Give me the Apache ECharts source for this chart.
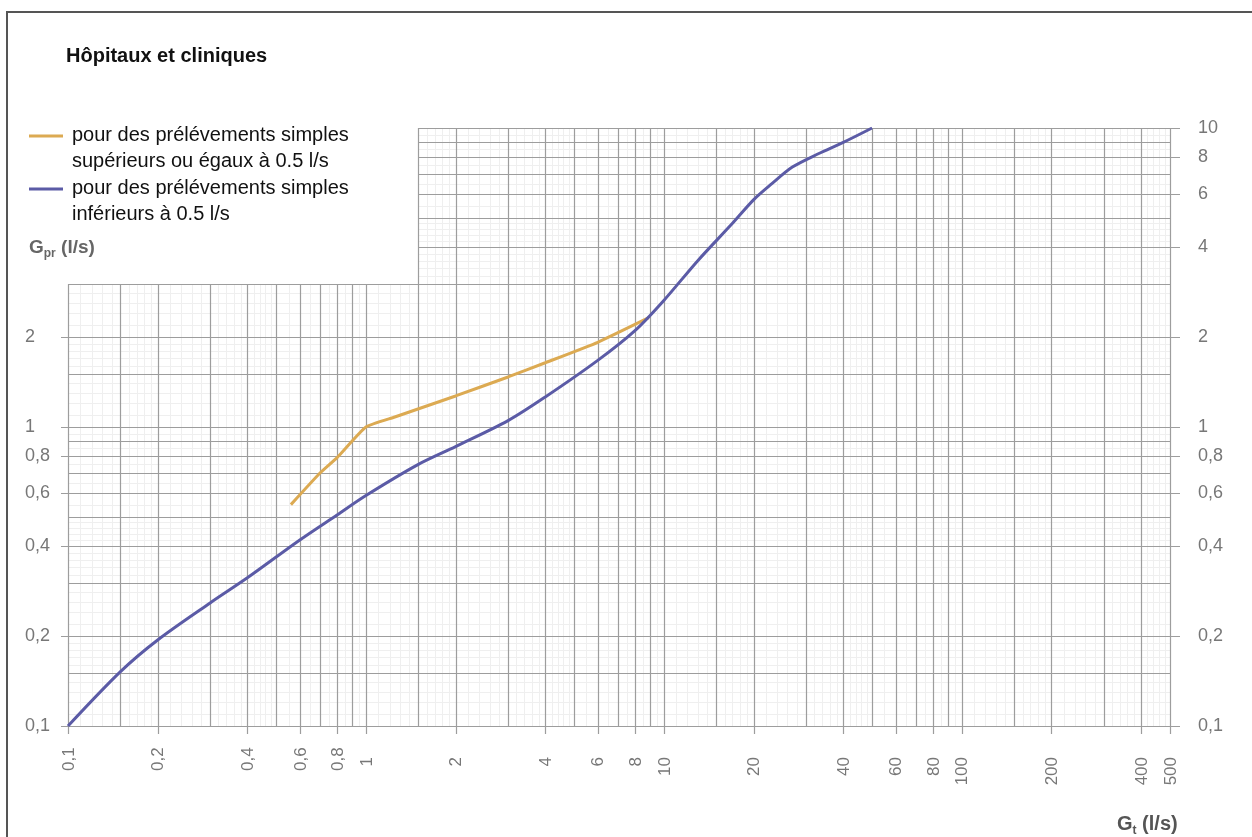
<!DOCTYPE html>
<html>
<head>
<meta charset="utf-8">
<script src="https://cdn.jsdelivr.net/npm/echarts@6/dist/echarts.min.js"></script>
<style>
html,body{margin:0;padding:0;background:#fff;}
#chart{width:1252px;height:837px;}
</style>
</head>
<body>
<div id="chart"></div>
<script>
// ---- data ----
const xTickLabels = [0.1, 0.2, 0.4, 0.6, 0.8, 1, 2, 4, 6, 8, 10, 20, 40, 60, 80, 100, 200, 400, 500];
const yTickLabelsLeft = [0.1, 0.2, 0.4, 0.6, 0.8, 1, 2];
const yTickLabelsRight = [0.1, 0.2, 0.4, 0.6, 0.8, 1, 2, 4, 6, 8, 10];

// blue: prélèvements simples inférieurs à 0.5 l/s
const blueGt  = [0.1, 0.15, 0.2, 0.3, 0.4, 0.6, 0.8, 1, 1.5, 2, 3, 4, 6, 8, 10, 13, 17, 20, 23, 27, 33, 40, 50];
const blueGpr = [0.1, 0.152, 0.194, 0.258, 0.313, 0.419, 0.508, 0.59, 0.75, 0.86, 1.05, 1.26, 1.67, 2.1, 2.65, 3.6, 4.8, 5.75, 6.5, 7.4, 8.2, 8.95, 10];

// orange: prélèvements simples supérieurs ou égaux à 0.5 l/s
const orangeGt  = [0.56, 0.7, 0.8, 1, 1.25, 2, 3, 4, 6, 8.9];
const orangeGpr = [0.55, 0.70, 0.79, 1.0, 1.08, 1.27, 1.47, 1.64, 1.92, 2.32];

const seriesNames = [
  'pour des prélévements simples\nsupérieurs ou égaux à 0.5 l/s',
  'pour des prélévements simples\ninférieurs à 0.5 l/s'
];

// ---- chart ----
const FONT = '"Liberation Sans", Arial, Helvetica, sans-serif';
const X_MIN = 0.1, X_MAX = 500, Y_MIN = 0.1, Y_MAX = 10;
const STEP_X = 1.5, STEP_Y = 3;   // stepped top edge of the graph paper
const MAJOR_MULT = [1, 1.5, 2, 3, 4, 5, 6, 7, 8, 9];
const FINE_RANGES = [[1, 2, 0.1], [2, 5, 0.2], [5, 10, 0.5]];
const DECADES = [0.1, 1, 10, 100];

function fmt(v) { return String(v).replace('.', ','); }

function gridValues(maxV) {
  const major = [], fine = [];
  DECADES.forEach(d => {
    MAJOR_MULT.forEach(m => { const v = +(d * m).toPrecision(6); if (v <= maxV + 1e-9) major.push(v); });
    FINE_RANGES.forEach(([a, b, s]) => {
      for (let k = a + s; k < b - 1e-9; k += s) {
        const m = +k.toPrecision(6);
        if (MAJOR_MULT.indexOf(m) >= 0) continue;
        const v = +(d * m).toPrecision(6);
        if (v <= maxV + 1e-9) fine.push(v);
      }
    });
  });
  if (major.indexOf(maxV) < 0) major.push(maxV);
  return { major, fine };
}

const xg = gridValues(X_MAX);
const yg = gridValues(Y_MAX);

function renderPaper(params, api) {
  const ch = [];
  const P = (x, y) => api.coord([x, y]);
  const r = v => Math.round(v) + 0.5;
  const vline = (u, color, w, extBottom) => {
    const top = u < STEP_X - 1e-9 ? STEP_Y : Y_MAX;
    const a = P(u, Y_MIN), b = P(u, top);
    ch.push({ type: 'line', shape: { x1: r(a[0]), y1: a[1] + (extBottom || 0), x2: r(b[0]), y2: b[1] },
      style: { stroke: color, lineWidth: w } });
  };
  const hline = (v, color, w, extL, extR) => {
    const left = v > STEP_Y + 1e-9 ? STEP_X : X_MIN;
    const a = P(left, v), b = P(X_MAX, v);
    ch.push({ type: 'line', shape: { x1: a[0] - (extL || 0), y1: r(a[1]), x2: b[0] + (extR || 0), y2: r(b[1]) },
      style: { stroke: color, lineWidth: w } });
  };
  // fine lines
  xg.fine.forEach(u => vline(u, '#efefef', 1));
  yg.fine.forEach(v => { if (v <= Y_MAX) hline(v, '#efefef', 1); });
  // major lines
  xg.major.forEach(u => vline(u, '#9d9d9d', 1.2, xTickLabels.indexOf(u) >= 0 ? 8 : 0));
  yg.major.forEach(v => hline(v, '#9d9d9d', 1.2,
    yTickLabelsLeft.indexOf(v) >= 0 ? 7 : 0,
    yTickLabelsRight.indexOf(v) >= 0 ? 10 : 0));
  // x labels (rotated)
  xTickLabels.forEach(u => {
    const p = P(u, Y_MIN);
    const small = u < 1;
    ch.push({ type: 'text', x: p[0] + 1, y: small ? 771 : 757, rotation: Math.PI / 2,
      style: { text: fmt(u), fill: '#777', font: '17px ' + FONT, align: small ? 'left' : 'right', verticalAlign: 'middle' } });
  });
  // y labels
  yTickLabelsLeft.forEach(v => {
    const p = P(X_MIN, v);
    ch.push({ type: 'text', x: 25, y: p[1], style: { text: fmt(v), fill: '#777', font: '18px ' + FONT, align: 'left', verticalAlign: 'middle' } });
  });
  yTickLabelsRight.forEach(v => {
    const p = P(X_MAX, v);
    ch.push({ type: 'text', x: p[0] + 28, y: p[1], style: { text: fmt(v), fill: '#777', font: '18px ' + FONT, align: 'left', verticalAlign: 'middle' } });
  });
  return { type: 'group', children: ch };
}

const chart = echarts.init(document.getElementById('chart'), null, { renderer: 'canvas' });
chart.setOption({
  animation: false,
  backgroundColor: '#fff',
  grid: { left: 68, right: 82, top: 128, bottom: 111 },
  xAxis: { type: 'log', logBase: 10, min: X_MIN, max: X_MAX,
    axisLine: { show: false }, axisTick: { show: false }, axisLabel: { show: false }, splitLine: { show: false } },
  yAxis: { type: 'log', logBase: 10, min: Y_MIN, max: Y_MAX,
    axisLine: { show: false }, axisTick: { show: false }, axisLabel: { show: false }, splitLine: { show: false } },
  series: [
    { type: 'custom', name: 'paper', data: [[1, 1]], renderItem: renderPaper, clip: false, silent: true, z: 1 },
    { type: 'line', name: seriesNames[0], data: orangeGt.map((x, i) => [x, orangeGpr[i]]),
      showSymbol: false, smooth: 0.15, lineStyle: { color: '#dcaa52', width: 3 }, itemStyle: { color: '#dcaa52' }, z: 3 },
    { type: 'line', name: seriesNames[1], data: blueGt.map((x, i) => [x, blueGpr[i]]),
      showSymbol: false, smooth: 0.3, lineStyle: { color: '#5b5ba6', width: 3 }, itemStyle: { color: '#5b5ba6' }, z: 4 }
  ],
  graphic: [
    { type: 'line', shape: { x1: 7, y1: 12, x2: 7, y2: 837 }, style: { stroke: '#555', lineWidth: 2 } },
    { type: 'line', shape: { x1: 6, y1: 12, x2: 1252, y2: 12 }, style: { stroke: '#555', lineWidth: 2 } },
    { type: 'text', left: 66, top: 46, style: { text: 'Hôpitaux et cliniques', font: 'bold 20px ' + FONT, fill: '#111' } },
    { type: 'line', shape: { x1: 29, y1: 136, x2: 63, y2: 136 }, style: { stroke: '#dcaa52', lineWidth: 3 } },
    { type: 'line', shape: { x1: 29, y1: 189, x2: 63, y2: 189 }, style: { stroke: '#5b5ba6', lineWidth: 3 } },
    { type: 'text', x: 72, y: 122, style: { text: seriesNames[0], font: '20px ' + FONT, fill: '#111', lineHeight: 26 } },
    { type: 'text', x: 72, y: 175, style: { text: seriesNames[1], font: '20px ' + FONT, fill: '#111', lineHeight: 26 } },
    { type: 'text', x: 29, y: 236, style: { text: '{a|G}{b|pr}{a| (l/s)}', fill: '#666',
      rich: { a: { font: 'bold 19px ' + FONT, fill: '#666', lineHeight: 24 }, b: { font: 'bold 12px ' + FONT, fill: '#666', lineHeight: 14, verticalAlign: 'bottom' } } } },
    { type: 'text', x: 1117, y: 812, style: { text: '{a|G}{b|t}{a| (l/s)}', fill: '#555',
      rich: { a: { font: 'bold 20px ' + FONT, fill: '#555', lineHeight: 25 }, b: { font: 'bold 12px ' + FONT, fill: '#555', lineHeight: 14, verticalAlign: 'bottom' } } } }
  ]
});
</script>
</body>
</html>
